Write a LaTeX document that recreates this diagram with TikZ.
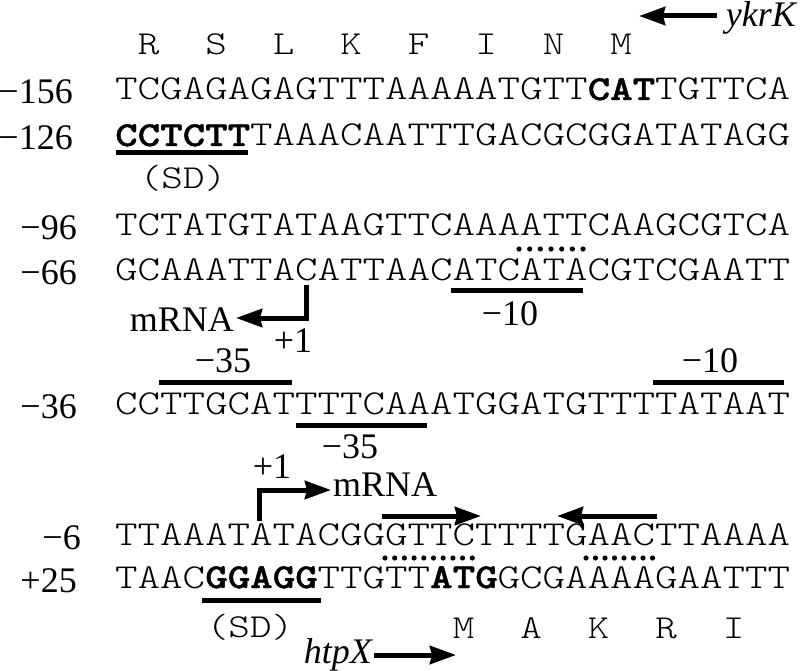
\documentclass[tikz,border=0pt]{standalone}
\usepackage{fontspec}
\setmainfont{Liberation Serif}
\newfontfamily\monof{lmmonolt10-regular}[Extension=.otf, BoldFont=lmmonolt10-bold, BoldFeatures={FakeBold=1.2}, FakeStretch=1.2245]
\usetikzlibrary{arrows.meta}
\begin{document}
\begin{tikzpicture}[x=1pt,y=-1pt,
  seq/.style={font=\monof\fontsize{35}{40}\selectfont, inner sep=0pt, anchor=base west},
  aa/.style={font=\monof\fontsize{33.5}{40}\selectfont, inner sep=0pt, anchor=base},
  num/.style={font=\fontsize{36}{40}\selectfont, inner sep=0pt, anchor=base east},
  lab/.style={font=\fontsize{36}{40}\selectfont, inner sep=0pt, anchor=base},
  gene/.style={font=\itshape\fontsize{36}{40}\selectfont, inner sep=0pt},
  bar/.style={line width=5pt},
  arr/.style={line width=5pt, line join=miter, -{Stealth[length=26pt,width=18pt,inset=2pt]}},
  dot/.style={fill=black}
]
\useasboundingbox (0,0) rectangle (800,671);

% gene ykrK
\node[gene, anchor=base east] (ykrk) at (796,27) {ykrK};
\coordinate (ya) at (717,16);
\coordinate (yb) at (639,16);
\draw[arr] (ya) -- (yb);

% amino acids top
\foreach \i/\l in {2/R,5/S,8/L,11/K,14/F,17/I,20/N,23/M}
  \node[aa] (aat\i) at ({115+(\i-0.5)*22.5},55) {\l};

% numbers
\node[num] (n1) at (73,104) {\char"2212 156};
\node[num] (n2) at (73,150) {\char"2212 126};
\node[num] (n3) at (77,239) {\char"2212 96};
\node[num] (n4) at (77,284) {\char"2212 66};
\node[num] (n5) at (77,418) {\char"2212 36};
\node[num] (n6) at (81,549) {\char"2212 6};
\node[num] (n7) at (77,592) {+25};

% sequences
\node[seq] (s1) at (115,100) {TCGAGAGAGTTTAAAAATGTT\textbf{CAT}TGTTCA};
\node[seq] (s2) at (115,146) {\textbf{CCTCTT}TAAACAATTTGACGCGGATATAGG};
\node[seq] (s3) at (115,235) {TCTATGTATAAGTTCAAAATTCAAGCGTCA};
\node[seq] (s4) at (115,280) {GCAAATTACATTAACATCATACGTCGAATT};
\node[seq] (s5) at (115,414) {CCTTGCATTTTCAAATGGATGTTTTATAAT};
\node[seq] (s6) at (115,545) {TTAAATATACGGGTTCTTTTGAACTTAAAA};
\node[seq] (s7) at (115,588) {TAAC\textbf{GGAGG}TTGTT\textbf{ATG}GCGAAAAGAATTT};

% SD 1
\draw[bar] (116,153) -- (248,153);
\node[aa] (sd1) at (183,189) {(SD)};

% dots above -66 row
\foreach \k in {0,...,6}
  \fill[dot] ({519+\k*10.67},249) circle[radius=2.6pt];

% -10 under -66 row
\draw[bar] (451,290) -- (583,290);
\node[lab] (m10a) at (510,325) {\char"2212 10};

% +1 reverse mRNA
\coordinate (p1a) at (306,285);
\coordinate (p1b) at (306,318);
\coordinate (p1c) at (236,318);
\draw[arr] (p1a) -- (p1b) -- (p1c);
\node[lab, anchor=base east] (mrna1) at (234,331) {mRNA};
\node[lab] (pl1) at (293,352) {+1};

% -35 / -10 above -36 row
\draw[bar] (159,382) -- (292,382);
\node[lab] (m35a) at (223,372) {\char"2212 35};
\draw[bar] (653,382) -- (784,382);
\node[lab] (m10b) at (710,372) {\char"2212 10};

% -35 under -36 row
\draw[bar] (296,425) -- (427,425);
\node[lab] (m35b) at (350,458) {\char"2212 35};

% +1 forward mRNA
\coordinate (p2a) at (259,521);
\coordinate (p2b) at (259,490);
\coordinate (p2c) at (331,490);
\draw[arr] (p2a) -- (p2b) -- (p2c);
\node[lab] (pl2) at (272,478) {+1};
\node[lab, anchor=base west] (mrna2) at (333,496) {mRNA};

% inverted repeat arrows
\coordinate (ir1a) at (382,516);
\coordinate (ir1b) at (481,516);
\draw[arr] (ir1a) -- (ir1b);
\coordinate (ir2a) at (657,516);
\coordinate (ir2b) at (557,516);
\draw[arr] (ir2a) -- (ir2b);

% dots below -6 row
\foreach \k in {0,...,9}
  \fill[dot] ({385+\k*9.7},558) circle[radius=2.6pt];
\foreach \k in {0,...,7}
  \fill[dot] ({586+\k*9.5},558) circle[radius=2.6pt];

% SD 2
\draw[bar] (202,600) -- (321,600);
\node[aa] (sd2) at (250,637) {(SD)};

% amino acids bottom
\foreach \i/\l in {16/M,19/A,22/K,25/R,28/I}
  \node[aa] (aab\i) at ({115+(\i-0.5)*22.5},638) {\l};

% gene htpX
\node[gene, anchor=base east] (htpx) at (372,663) {htpX};
\coordinate (ha) at (374,655);
\coordinate (hb) at (456,655);
\draw[arr] (ha) -- (hb);
\end{tikzpicture}
\end{document}
